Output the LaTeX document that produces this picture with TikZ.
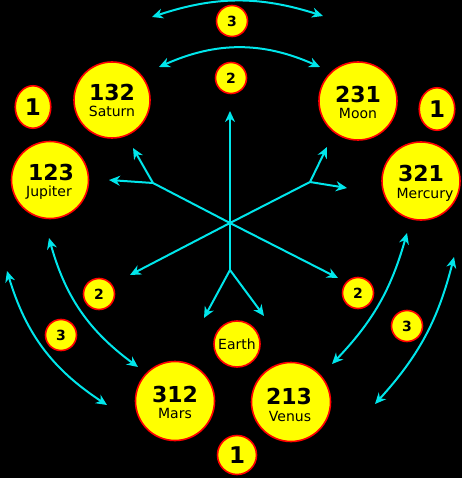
\documentclass[tikz,border=0pt]{standalone}
\usepackage{fontspec}
\setmainfont{DejaVu Sans}
\usetikzlibrary{arrows.meta,shapes.geometric}
\definecolor{ac}{RGB}{0,230,235}
\definecolor{yel}{RGB}{255,255,0}
\definecolor{rd}{RGB}{255,0,0}
\tikzset{
  planet/.style={circle, draw=rd, fill=yel, line width=1.6pt, inner sep=0pt, minimum size=#1},
  oval/.style={ellipse, draw=rd, fill=yel, line width=1.6pt, inner sep=0pt, minimum width=35.5pt, minimum height=42.5pt},
  bignum/.style={font=\bfseries\fontsize{22}{22}\selectfont, inner sep=0pt, anchor=base},
  pname/.style={font=\fontsize{14}{14}\selectfont, inner sep=0pt, anchor=base},
  smallnum/.style={font=\bfseries\fontsize{14}{14}\selectfont, inner sep=0pt},
  onenum/.style={font=\bfseries\fontsize{23}{23}\selectfont, inner sep=0pt},
  ray/.style={draw=ac, line width=2pt},
  arr/.style={draw=ac, line width=2pt, -{Stealth[length=11pt,width=10pt,inset=3.5pt]}},
  darr/.style={draw=ac, line width=2pt, {Stealth[length=11pt,width=10pt,inset=3.5pt]}-{Stealth[length=11pt,width=10pt,inset=3.5pt]}},
}
\begin{document}
\begin{tikzpicture}[x=1pt,y=-1pt]
\fill[black] (0,0) rectangle (462,478);
\useasboundingbox (0,0) rectangle (462,478);

% small numbered circles
\node[planet=31pt, smallnum] (n3top) at (232,21) {3};
\node[planet=31pt, smallnum] (n2top) at (231,78) {2};
\node[planet=31pt, smallnum] (n2l) at (99,294) {2};
\node[planet=31pt, smallnum] (n2r) at (358,293) {2};
\node[planet=31pt, smallnum] (n3l) at (61,335) {3};
\node[planet=31pt, smallnum] (n3r) at (407,326) {3};
\node[oval, onenum] (n1l) at (33,107) {1};
\node[oval, onenum] (n1r) at (437,109) {1};
\node[planet=39pt, onenum] (n1b) at (237,455) {1};

% Earth
\node[planet=46pt, font=\fontsize{14}{14}\selectfont] (earth) at (237,344) {Earth};

% planets
\node[planet=76pt] (saturn) at (112,100) {};
\node[bignum] (saturnN) at (112,101) {132};
\node[pname] (saturnL) at (112,116.5) {Saturn};

\node[planet=78pt] (moon) at (358,101) {};
\node[bignum] (moonN) at (358,103) {231};
\node[pname] (moonL) at (358,119) {Moon};

\node[planet=77pt] (jupiter) at (50,180) {};
\node[bignum] (jupiterN) at (51,181) {123};
\node[pname] (jupiterL) at (49,196.5) {Jupiter};

\node[planet=78pt] (mercury) at (421,181) {};
\node[bignum] (mercuryN) at (421,182) {321};
\node[pname] (mercuryL) at (425,198) {Mercury};

\node[planet=79pt] (mars) at (175,401) {};
\node[bignum] (marsN) at (175,402) {312};
\node[pname] (marsL) at (175,418) {Mars};

\node[planet=79pt] (venus) at (291,402) {};
\node[bignum] (venusN) at (289,404) {213};
\node[pname] (venusL) at (290,421) {Venus};

% star of arrows
\coordinate (c) at (230,223);
\coordinate (up) at (230,111);
\coordinate (ul) at (153,183);
\coordinate (ul1) at (133,148);
\coordinate (ul2) at (109,180);
\coordinate (ur) at (310,182);
\coordinate (ur1) at (327,147);
\coordinate (ur2) at (347,188);
\coordinate (ll) at (130,275);
\coordinate (lr) at (338,278);
\coordinate (dn) at (230,270);
\coordinate (dn1) at (204,318);
\coordinate (dn2) at (264,316);
\draw[arr] (c) -- (up);
\draw[ray] (c) -- (ul);
\draw[arr] (ul) -- (ul1);
\draw[arr] (ul) -- (ul2);
\draw[ray] (c) -- (ur);
\draw[arr] (ur) -- (ur1);
\draw[arr] (ur) -- (ur2);
\draw[arr] (c) -- (ll);
\draw[arr] (c) -- (lr);
\draw[ray] (c) -- (dn);
\draw[arr] (dn) -- (dn1);
\draw[arr] (dn) -- (dn2);

% curved double arrows
\coordinate (t3a) at (152,17);
\coordinate (t3b) at (323,16);
\coordinate (t2a) at (159,67);
\coordinate (t2b) at (320,67);
\coordinate (lia) at (49,238);
\coordinate (lib) at (138,367);
\coordinate (loa) at (7,271);
\coordinate (lob) at (107,405);
\coordinate (ria) at (407,233);
\coordinate (rib) at (332,364);
\coordinate (roa) at (454,257);
\coordinate (rob) at (375,404);
\draw[darr] (t3a) to[bend left=18] (t3b);
\draw[darr] (t2a) to[bend left=24] (t2b);
\draw[darr] (lia) to[bend right=19] (lib);
\draw[darr] (loa) to[bend right=20] (lob);
\draw[darr] (ria) to[bend left=14] (rib);
\draw[darr] (roa) to[bend left=14] (rob);
\end{tikzpicture}
\end{document}
